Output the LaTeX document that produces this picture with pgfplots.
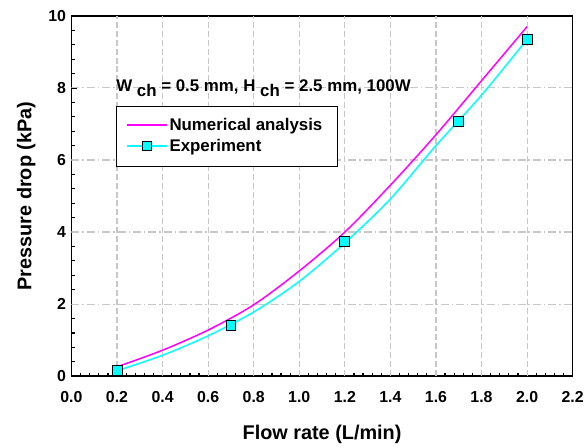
\documentclass[border=0pt]{standalone}
\usepackage{pgfplots}
\pgfplotsset{compat=1.18}
\usepackage{fontspec}
\setmainfont{Liberation Sans}
\usetikzlibrary{calc}
\definecolor{expc}{RGB}{0,255,255}
\definecolor{numc}{RGB}{255,0,255}
\begin{document}
\begin{tikzpicture}
\begin{axis}[
    scale only axis, width=505pt, height=363pt,
    xmin=0, xmax=2.2, ymin=0, ymax=10,
    xtick={0,0.2,...,2.21}, ytick={0,2,...,10},
    minor x tick num=4, minor y tick num=4,
    xtick pos=bottom, ytick pos=left,
    tick align=inside,
    major tick length=6pt, minor tick length=3.5pt,
    tick style={black, line width=1.2pt},
    axis line style={line width=1.6pt},
    tick label style={font=\fontsize{16}{18}\selectfont\bfseries},
    /pgf/number format/assume math mode=true,
    xticklabel style={yshift=-12pt, /pgf/number format/.cd, fixed, fixed zerofill, precision=1},
    yticklabel style={xshift=-2pt},
    xlabel={Flow rate (L/min)}, ylabel={Pressure drop (kPa)},
    label style={font=\fontsize{20}{23}\selectfont\bfseries},
    xlabel style={yshift=-16pt}, ylabel style={yshift=6pt},
    legend style={at={(axis cs:0.196,7.49)}, anchor=north west,
      draw=none, fill=none,
      font=\fontsize{17}{19}\selectfont\bfseries,
      cells={anchor=west}, inner xsep=10pt, inner ysep=10pt, row sep=3pt},
    legend columns=1,
    /tikz/every even column/.append style={column sep=10pt},
    legend image code/.code={
      \draw[#1] (0pt,0pt) -- (40pt,0pt);
      \draw[#1, only marks, line width=0.8pt] plot coordinates {(20pt,0pt)};},
  ]
  % grid lines
  \pgfplotsinvokeforeach{0.2,0.4,0.6,0.8,1.0,1.2,1.4,1.6,1.8,2.0}{
    \draw[black!22, line width=1.1pt, dash pattern=on 6pt off 3pt] (axis cs:#1,0) -- (axis cs:#1,10);}
  \pgfplotsinvokeforeach{2,4,6,8}{
    \draw[black!22, line width=1.1pt, dash pattern=on 8pt off 3pt on 1.5pt off 3pt] (axis cs:0,#1) -- (axis cs:2.2,#1);}
  \addplot[color=numc, line width=1.5pt, smooth, forget plot] coordinates {
    (0.2,0.26) (0.4,0.72) (0.6,1.28) (0.8,1.98) (1.0,2.92) (1.2,4.0)
    (1.4,5.3) (1.6,6.7) (1.8,8.2) (2.0,9.7)};
  \addplot[color=expc, line width=1.5pt, smooth, forget plot] coordinates {
    (0.2,0.15) (0.4,0.58) (0.6,1.12) (0.8,1.78) (1.0,2.63) (1.2,3.7)
    (1.4,4.92) (1.6,6.4) (1.8,7.8) (2.0,9.35)};
  \addplot[only marks, mark=square*, mark size=5pt,
    mark options={fill=expc, draw=black, line width=0.8pt}, forget plot] coordinates {
    (0.2,0.15) (0.7,1.42) (1.2,3.73) (1.7,7.08) (2.0,9.36)};
  % legend frame
  \draw[black, fill=white, line width=1pt] (axis cs:0.196,7.49) rectangle (axis cs:1.168,5.81);
  \addlegendimage{color=numc, line width=1.6pt}
  \addlegendentry{Numerical analysis}
  \addlegendimage{color=expc, line width=1.5pt, mark=square*, mark options={fill=expc, draw=black}, mark size=5pt}
  \addlegendentry{Experiment}
  \node[anchor=west, inner sep=0pt, font=\fontsize{17}{19}\selectfont\bfseries]
    at (axis cs:0.196,8.0) {W\raisebox{-5pt}{ ch} = 0.5 mm, H\raisebox{-5pt}{ ch} = 2.5 mm, 100W};
\end{axis}
\path[use as bounding box] ($(current axis.south west)+(-72pt,-66pt)$) rectangle ($(current axis.north east)+(10pt,16pt)$);
\end{tikzpicture}
\end{document}
